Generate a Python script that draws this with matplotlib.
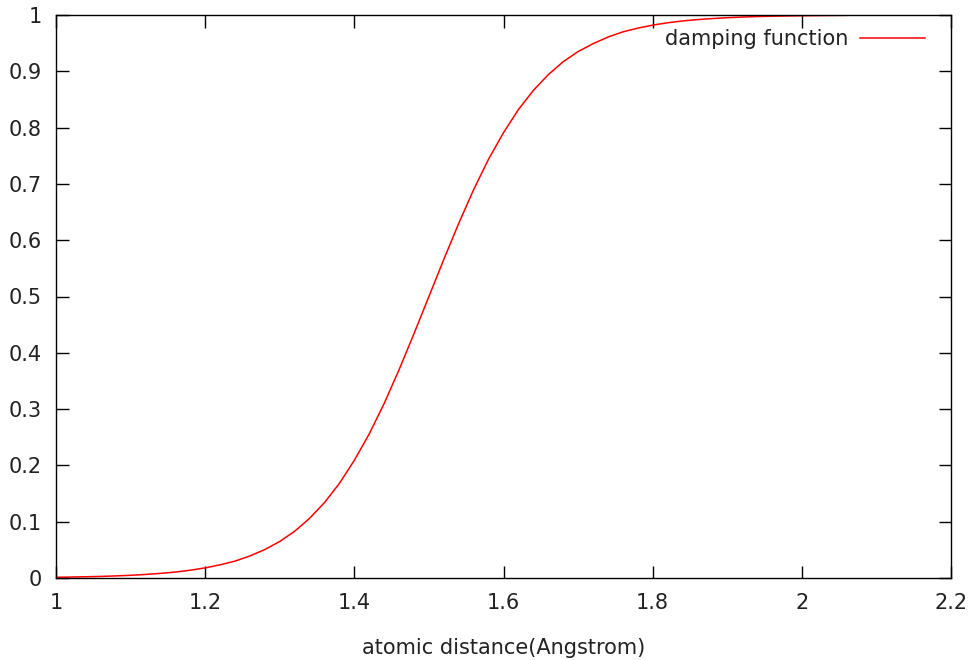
import numpy as np
import matplotlib
matplotlib.use('Agg')
import matplotlib.pyplot as plt

# values
dist = [1.00, 1.02, 1.04, 1.06, 1.08, 1.10, 1.12, 1.14, 1.16, 1.18, 1.20, 1.22,
        1.24, 1.26, 1.28, 1.30, 1.32, 1.34, 1.36, 1.38, 1.40, 1.42, 1.44, 1.46,
        1.48, 1.50, 1.52, 1.54, 1.56, 1.58, 1.60, 1.62, 1.64, 1.66, 1.68, 1.70,
        1.72, 1.74, 1.76, 1.78, 1.80, 1.82, 1.84, 1.86, 1.88, 1.90, 1.92, 1.94,
        1.96, 1.98, 2.00, 2.03, 2.06]
damp = [0.0013, 0.0017, 0.0022, 0.0028, 0.0037, 0.0048, 0.0063, 0.0082, 0.0106, 0.0138,
        0.018, 0.0234, 0.030, 0.0392, 0.0505, 0.0649, 0.083, 0.106, 0.134, 0.168,
        0.209, 0.256, 0.310, 0.370, 0.434, 0.500, 0.566, 0.630, 0.690, 0.744,
        0.791, 0.832, 0.866, 0.894, 0.917, 0.935, 0.949, 0.9608, 0.970, 0.9766,
        0.982, 0.9862, 0.9894, 0.9918, 0.9937, 0.9952, 0.9963, 0.9972, 0.9978, 0.9983,
        0.9987, 0.9991, 0.9994]

xticks = [1, 1.2, 1.4, 1.6, 1.8, 2, 2.2]
xticklabels = ['1', '1.2', '1.4', '1.6', '1.8', '2', '2.2']
yticks = [0, 0.1, 0.2, 0.3, 0.4, 0.5, 0.6, 0.7, 0.8, 0.9, 1]
yticklabels = ['0', '0.1', '0.2', '0.3', '0.4', '0.5', '0.6', '0.7', '0.8', '0.9', '1']

plt.rcParams['font.family'] = ['DejaVu Sans']
plt.rcParams['font.size'] = 15
plt.rcParams['text.color'] = '#222222'

fig = plt.figure(figsize=(9.73, 6.6), dpi=100)
ax = fig.add_axes([56 / 973, 1 - 578 / 660, (951 - 56) / 973, (578 - 15) / 660])

ax.plot(dist, damp, color='#ff0000', lw=1.1, label='damping function')

ax.set_xlim(1, 2.2)
ax.set_ylim(0, 1)
ax.set_xticks(xticks)
ax.set_xticklabels(xticklabels)
ax.set_yticks(yticks)
ax.set_yticklabels(yticklabels)
ax.tick_params(direction='in', length=9, width=1, top=True, right=True,
               labelsize=15, colors='black', labelcolor='#222222')
ax.tick_params(axis='x', pad=11)
ax.tick_params(axis='y', pad=10)
for s in ax.spines.values():
    s.set_linewidth(1)

ax.set_xlabel('atomic distance(Angstrom)', fontsize=15, labelpad=18, color='#222222')

ax.legend(loc='center right', bbox_to_anchor=((925 - 56) / (951 - 56), 1 - (39 - 15) / (578 - 15)),
          frameon=False, markerfirst=False, handlelength=3.1, handletextpad=0.6,
          borderpad=0, borderaxespad=0, fontsize=15)

fig.savefig('out.png', dpi=100)
